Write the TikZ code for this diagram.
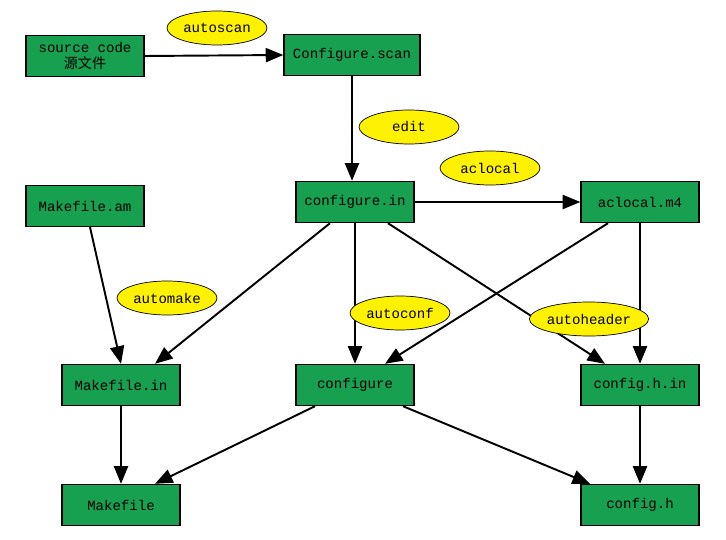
\documentclass[tikz,border=0pt]{standalone}
\usepackage{fontspec}
\setmainfont{Liberation Mono}
\newfontfamily\cjk{Noto Sans CJK SC}
\usetikzlibrary{arrows.meta,shapes.geometric,backgrounds}
\definecolor{boxgreen}{RGB}{22,160,80}
\tikzset{
  box/.style={rectangle, draw, thick, fill=boxgreen, minimum width=118\pxu, minimum height=41\pxu, font=\fontsize{8}{9}\selectfont, align=center, inner sep=1pt},
  tool/.style={ellipse, draw, fill=yellow, minimum width=100\pxu, minimum height=34\pxu, font=\fontsize{8}{9}\selectfont, inner sep=0pt},
  flow/.style={-{Triangle[length=10pt,width=8pt]}, line width=1.1pt}
}
\newlength{\pxu}\setlength{\pxu}{0.02cm}
\begin{document}
\begin{tikzpicture}[x=0.02cm, y=-0.02cm]
    \useasboundingbox (0,0) rectangle (726,540);

    % Nodes
    \node[box] (src) at (85,56) {source code\\{\cjk 源文件}};
    \node[box, minimum width=136\pxu] (scan) at (352,55) {Configure.scan};
    \node[box] (cin) at (355,202) {configure.in};
    \node[box] (mam) at (85,206) {Makefile.am};
    \node[box] (m4) at (640,202) {aclocal.m4};
    \node[box] (min) at (121,385) {Makefile.in};
    \node[box] (conf) at (355,385) {configure};
    \node[box] (hin) at (640,385) {config.h.in};
    \node[box] (mk) at (121,505) {Makefile};
    \node[box] (ch) at (640,505) {config.h};

    % Tools
    \node[tool] (t1) at (217,28) {autoscan};
    \node[tool] (t2) at (409,127) {edit};
    \node[tool] (t3) at (490,168) {aclocal};
    \node[tool] (t4) at (167,298) {automake};
    \node[tool] (t5) at (400,313) {autoconf};
    \node[tool, minimum width=118\pxu] (t6) at (589,319) {autoheader};

    % Arrows
    \begin{scope}[on background layer]
      \draw[flow] (src.east) -- (scan.west);
      \draw[flow] (scan.south) -- (cin.north -| scan.south);
      \draw[flow] (cin.east) -- (m4.west);
      \draw[flow] ([xshift=-25\pxu]cin.south) -- ([xshift=34\pxu]min.north);
      \draw[flow] (cin.south) -- (conf.north);
      \draw[flow] ([xshift=33\pxu]cin.south) -- ([xshift=-35\pxu]hin.north);
      \draw[flow] ([xshift=-32\pxu]m4.south) -- ([xshift=30\pxu]conf.north);
      \draw[flow] (m4.south) -- (hin.north);
      \draw[flow] ([xshift=5\pxu]mam.south) -- (min.north);
      \draw[flow] (min.south) -- (mk.north);
      \draw[flow] ([xshift=-40\pxu]conf.south) -- ([xshift=34\pxu]mk.north);
      \draw[flow] ([xshift=48\pxu]conf.south) -- ([xshift=-50\pxu]ch.north);
      \draw[flow] (hin.south) -- (ch.north);
    \end{scope}

\end{tikzpicture}
\end{document}
